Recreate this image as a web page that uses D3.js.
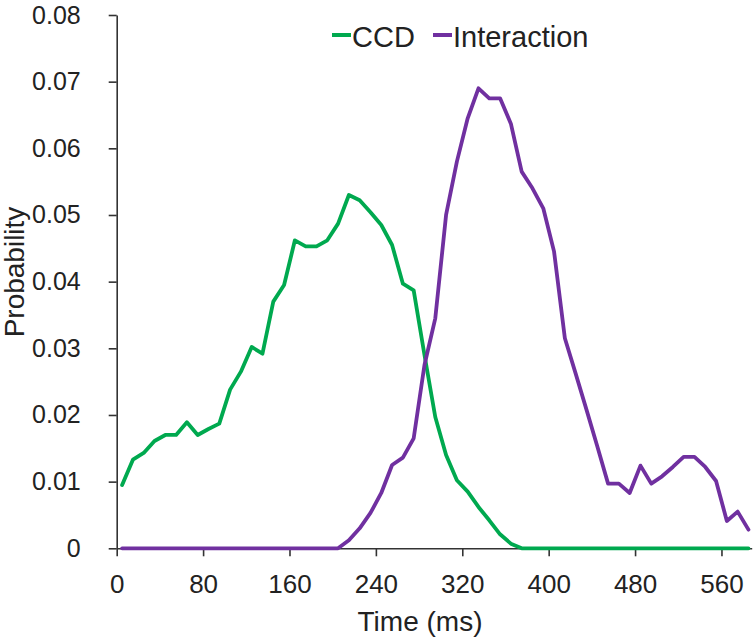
<!DOCTYPE html>
<html>
<head>
<meta charset="utf-8">
<script src="https://cdn.jsdelivr.net/npm/d3@7"></script>
<style>
  html, body { margin: 0; padding: 0; background: #fff; }
  svg { display: block; }
  text { font-family: "Liberation Sans", Arial, sans-serif; fill: #222; }
</style>
</head>
<body>
<script>
// ---- data ----
const timeMs = [5,15,25,35,45,55,65,75,85,95,105,115,125,135,145,155,165,175,185,195,
  205,215,225,235,245,255,265,275,285,295,305,315,325,335,345,355,365,375,385,395,
  405,415,425,435,445,455,465,475,485,495,505,515,525,535,545,555,565,575,585];

const ccd = [0.0095,0.0133,0.0143,0.0161,0.0170,0.0170,0.0189,0.0170,0.0179,0.0187,
  0.0238,0.0265,0.0302,0.0292,0.0370,0.0395,0.0462,0.0453,0.0453,0.0462,
  0.0487,0.0530,0.0522,0.0504,0.0485,0.0455,0.0397,0.0387,0.0290,0.0197,
  0.0140,0.0102,0.0085,0.0062,0.0042,0.0021,0.0007,0,0,0,
  0,0,0,0,0,0,0,0,0,0,
  0,0,0,0,0,0,0,0,0];

const interaction = [0,0,0,0,0,0,0,0,0,0,
  0,0,0,0,0,0,0,0,0,0,
  0,0.0012,0.0030,0.0053,0.0083,0.0125,0.0136,0.0165,0.0275,0.0345,
  0.0500,0.0580,0.0645,0.0690,0.0675,0.0675,0.0637,0.0565,0.0540,0.0510,
  0.0445,0.0315,0.0262,0.0208,0.0153,0.0097,0.0097,0.0083,0.0124,0.0097,
  0.0108,0.0122,0.0137,0.0137,0.0122,0.0101,0.0041,0.0055,0.0028];

const xTicks = [0,80,160,240,320,400,480,560];
const yTicks = [0,0.01,0.02,0.03,0.04,0.05,0.06,0.07,0.08];
const yTickLabels = ["0","0.01","0.02","0.03","0.04","0.05","0.06","0.07","0.08"];
const seriesNames = ["CCD","Interaction"];
const seriesColors = ["#00A94F","#7030A0"];

// ---- chart ----
const W = 755, H = 642;
const svg = d3.select("body").append("svg").attr("width", W).attr("height", H);

const x = d3.scaleLinear().domain([0, 588]).range([116.7, 751.7]);
const y = d3.scaleLinear().domain([0, 0.08]).range([548.3, 15]);

const yAxis = svg.append("g")
  .attr("transform", `translate(${x(0)},0)`)
  .call(d3.axisLeft(y).tickValues(yTicks)
    .tickFormat((d, i) => yTickLabels[i])
    .tickSize(8).tickSizeOuter(0).tickPadding(28));

const xAxis = svg.append("g")
  .attr("transform", `translate(0,${y(0)})`)
  .call(d3.axisBottom(x).tickValues(xTicks)
    .tickFormat(d3.format("d"))
    .tickSize(8).tickSizeOuter(0).tickPadding(18));

[yAxis, xAxis].forEach(g => {
  g.selectAll(".domain").attr("stroke", "#333").attr("stroke-width", 1.6);
  g.selectAll(".tick line").attr("stroke", "#333").attr("stroke-width", 1.6);
  g.selectAll(".tick text").attr("fill", "#222")
    .style("font-family", "'Liberation Sans', Arial, sans-serif");
});
yAxis.selectAll(".tick text").style("font-size", "25px");
xAxis.selectAll(".tick text").style("font-size", "26px");

// axis titles
svg.append("text")
  .attr("x", 420).attr("y", 631)
  .attr("text-anchor", "middle")
  .style("font-size", "28px")
  .text("Time (ms)");

svg.append("text")
  .attr("transform", "translate(24,272) rotate(-90)")
  .attr("text-anchor", "middle")
  .style("font-size", "28px")
  .text("Probability");

// lines
const line = d3.line().x(d => x(d[0])).y(d => y(d[1]));
const seriesData = [ccd, interaction];
seriesData.forEach((vals, si) => {
  svg.append("path")
    .datum(timeMs.map((t, i) => [t, vals[i]]))
    .attr("fill", "none")
    .attr("stroke", seriesColors[si])
    .attr("stroke-width", 3.8)
    .attr("stroke-linejoin", "round")
    .attr("stroke-linecap", "round")
    .attr("d", line);
});

// legend
const legendItems = [
  { name: seriesNames[0], color: seriesColors[0], x0: 332 },
  { name: seriesNames[1], color: seriesColors[1], x0: 433 }
];
legendItems.forEach(it => {
  svg.append("line")
    .attr("x1", it.x0).attr("x2", it.x0 + 19)
    .attr("y1", 35).attr("y2", 35)
    .attr("stroke", it.color).attr("stroke-width", 4);
  svg.append("text")
    .attr("x", it.x0 + 20).attr("y", 46.5)
    .style("font-size", "29px")
    .text(it.name);
});
</script>
</body>
</html>
